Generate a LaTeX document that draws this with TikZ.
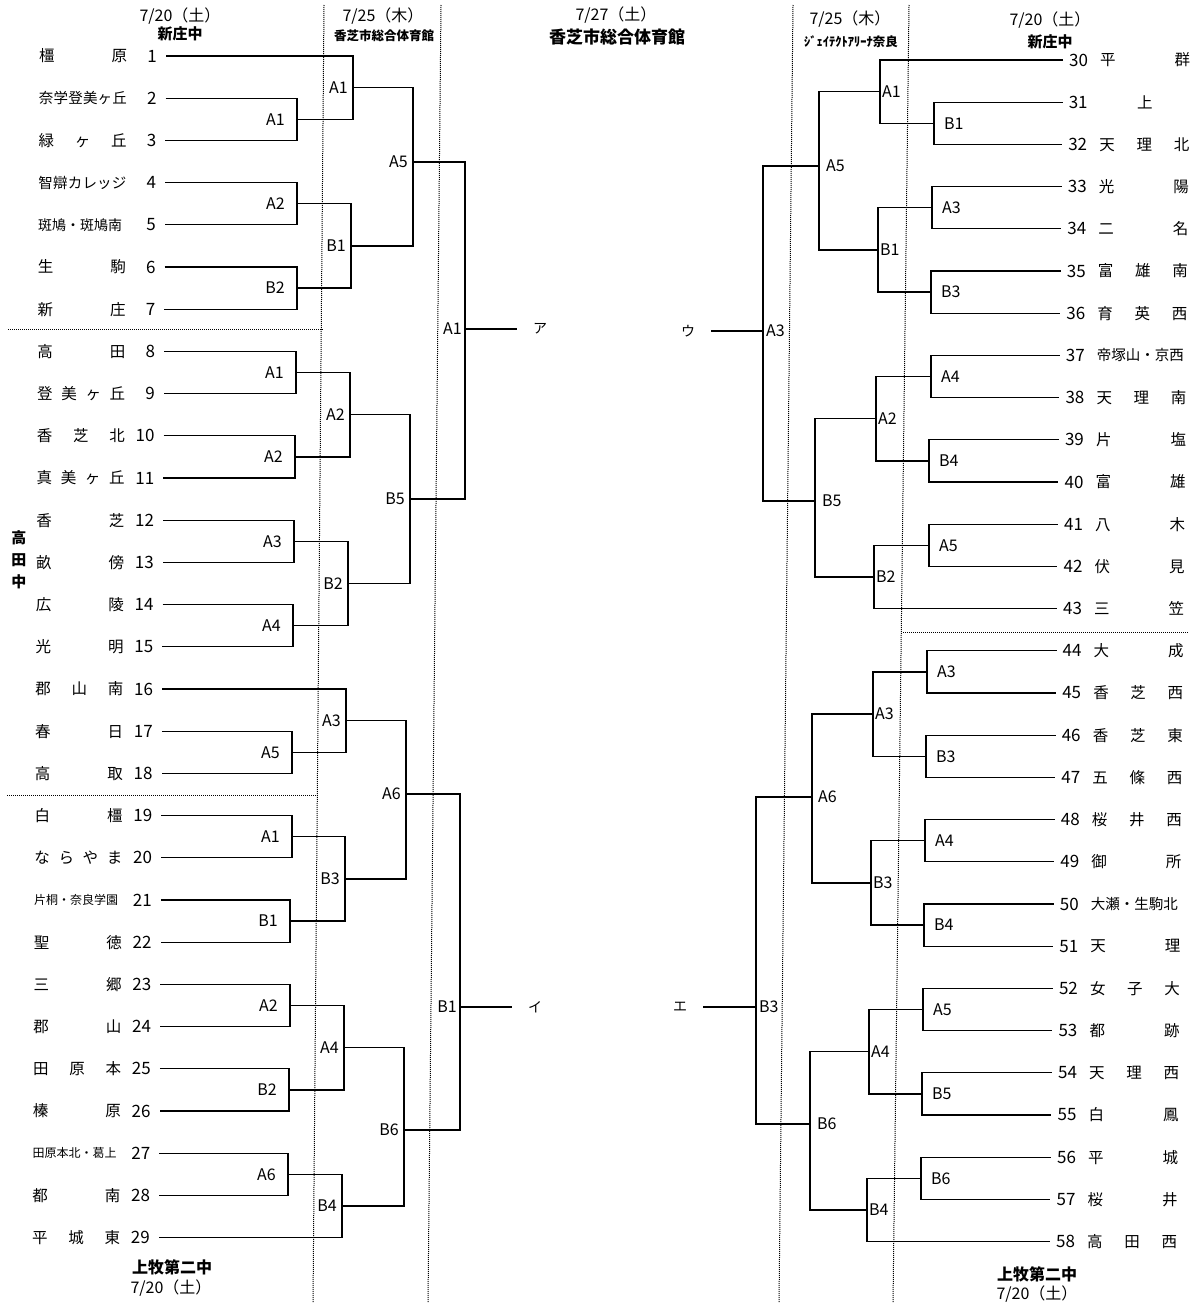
\documentclass[tikz,border=0pt]{standalone}
\usepackage{fontspec}
\setmainfont{Noto Sans CJK JP}
\usetikzlibrary{calc}
\newcommand\fsz[1]{\fontsize{#1}{#1}\selectfont}
% left bracket: name, x, upper, lower, label, gap, y of outgoing line
\newcommand\brLy[7]{%
  \coordinate (#1x) at (#2,0);
  \draw[br] (#3) -- (#3 -| #1x) -- (#4 -| #1x) -- (#4);
  \coordinate (#1) at (#2,#7);
  \node[labL] (#1l) at ([xshift=-#6pt]#1) {#5};
}
\newcommand\brL[6]{%
  \coordinate (#1x) at (#2,0);
  \draw[br] (#3) -- (#3 -| #1x) -- (#4 -| #1x) -- (#4);
  \coordinate (#1) at ($(#3 -| #1x)!0.5!(#4 -| #1x)$);
  \node[labL] (#1l) at ([xshift=-#6pt]#1) {#5};
}
% right bracket
\newcommand\brRy[7]{%
  \coordinate (#1x) at (#2,0);
  \draw[br] (#3) -- (#3 -| #1x) -- (#4 -| #1x) -- (#4);
  \coordinate (#1) at (#2,#7);
  \node[labR] (#1l) at ([xshift=#6pt]#1) {#5};
}
\newcommand\brR[6]{%
  \coordinate (#1x) at (#2,0);
  \draw[br] (#3) -- (#3 -| #1x) -- (#4 -| #1x) -- (#4);
  \coordinate (#1) at ($(#3 -| #1x)!0.5!(#4 -| #1x)$);
  \node[labR] (#1l) at ([xshift=#6pt]#1) {#5};
}
\begin{document}
\begin{tikzpicture}[x=1pt,y=-1pt,
  br/.style={line width=1.3pt},
  dotsep/.style={line width=1pt, dash pattern=on 1pt off 1pt},
  lname/.style={inner sep=0pt, anchor=west, font=\fsz{15.5}},
  lnum/.style={inner sep=0pt, anchor=east, font=\fsz{17}},
  rnum/.style={inner sep=0pt, anchor=west, font=\fsz{17}},
  labL/.style={inner sep=0pt, anchor=east, font=\fsz{16}},
  labR/.style={inner sep=0pt, anchor=west, font=\fsz{16}},
  kana/.style={inner ysep=0pt, inner xsep=16pt, font=\fsz{14}},
  date/.style={inner sep=0pt, font=\fsz{16}},
  venue/.style={inner sep=0pt, font=\bfseries\fsz{15}}]
\fill[white] (0,0) rectangle (1200,1303);
\useasboundingbox (0,0) rectangle (1200,1303);

% dotted guides
\draw[dotsep] (324,5) -- (313,1303);
\draw[dotsep] (441,5) -- (428,1303);
\draw[dotsep] (793,5) -- (779,1303);
\draw[dotsep] (909,5) -- (893,1303);
\draw[dotsep] (8,329) -- (323,329);
\draw[dotsep] (7,795) -- (318,795);
\draw[dotsep] (903,632) -- (1188,632);

% headers
\node[date] (h1d) at (180,16) {7/20（土）};
\node[venue] (h1v) at (180,34) {新庄中};
\node[date] (h2d) at (383,16) {7/25（木）};
\node[venue, font=\bfseries\fsz{12.5}] (h2v) at (384,36) {香芝市総合体育館};
\node[date] (h3d) at (616,15) {7/27（土）};
\node[venue, font=\bfseries\fsz{17}] (h3v) at (617,37) {香芝市総合体育館};
\node[date] (h4d) at (850,19) {7/25（木）};
\node[venue, font=\bfseries\fsz{12.5}] (h4v) at (851,42) {ｼﾞｪｲﾃｸﾄｱﾘｰﾅ奈良};
\node[date] (h5d) at (1050,20) {7/20（土）};
\node[venue] (h5v) at (1050,42) {新庄中};
\node[venue, font=\bfseries\fsz{16}] (f1v) at (172,1267) {上牧第二中};
\node[date] (f1d) at (171,1288) {7/20（土）};
\node[venue, font=\bfseries\fsz{16}] (f2v) at (1037,1274) {上牧第二中};
\node[date] (f2d) at (1037,1294) {7/20（土）};
\node[venue, align=center, font=\bfseries\fontsize{15}{22}\selectfont] (vt) at (19,560) {高\\田\\中};

% left teams
\foreach \i/\tn in {
 1/{橿\hfill 原}, 2/{\fsz{14.5}奈\hfill 学\hfill 登\hfill 美\hfill ヶ\hfill 丘},
 3/{緑\hfill ヶ\hfill 丘}, 4/{\fsz{14.5}智\hfill 辯\hfill カ\hfill レ\hfill ッ\hfill ジ},
 5/{\fsz{14}斑鳩・斑鳩南\hfill}, 6/{生\hfill 駒}, 7/{新\hfill 庄},
 8/{高\hfill 田}, 9/{登\hfill 美\hfill ヶ\hfill 丘}, 10/{香\hfill 芝\hfill 北},
 11/{真\hfill 美\hfill ヶ\hfill 丘}, 12/{香\hfill 芝}, 13/{畝\hfill 傍},
 14/{広\hfill 陵}, 15/{光\hfill 明}, 16/{郡\hfill 山\hfill 南},
 17/{春\hfill 日}, 18/{高\hfill 取}, 19/{白\hfill 橿},
 20/{な\hfill ら\hfill や\hfill ま}, 21/{\fsz{12}片桐・奈良学園\hfill},
 22/{聖\hfill 徳}, 23/{三\hfill 郷}, 24/{郡\hfill 山},
 25/{田\hfill 原\hfill 本}, 26/{榛\hfill 原}, 27/{\fsz{12}田原本北・葛上\hfill},
 28/{都\hfill 南}, 29/{平\hfill 城\hfill 東}}{
  \pgfmathsetmacro\yy{56+(\i-1)*42.2}
  \pgfmathsetmacro\dd{(\yy-56)*0.006}
  \node[lname] (N\i) at (39-\dd,\yy) {\hbox to 88pt{\tn}};
  \node[lnum] (n\i) at (157-\dd,\yy) {\i};
  \coordinate (T\i) at (166-\dd,\yy);
}

% right teams
\foreach \i/\tn in {
 30/{平\hfill 群}, 31/{\hfill 上\hfill}, 32/{天\hfill 理\hfill 北},
 33/{光\hfill 陽}, 34/{二\hfill 名}, 35/{富\hfill 雄\hfill 南},
 36/{育\hfill 英\hfill 西}, 37/{\fsz{14.5}帝塚山・京西\hfill}, 38/{天\hfill 理\hfill 南},
 39/{片\hfill 塩}, 40/{富\hfill 雄}, 41/{八\hfill 木}, 42/{伏\hfill 見},
 43/{三\hfill 笠}, 44/{大\hfill 成}, 45/{香\hfill 芝\hfill 西},
 46/{香\hfill 芝\hfill 東}, 47/{五\hfill 條\hfill 西}, 48/{桜\hfill 井\hfill 西},
 49/{御\hfill 所}, 50/{\fsz{14.5}大瀬・生駒北\hfill}, 51/{天\hfill 理},
 52/{女\hfill 子\hfill 大}, 53/{都\hfill 跡}, 54/{天\hfill 理\hfill 西},
 55/{白\hfill 鳳}, 56/{平\hfill 城}, 57/{桜\hfill 井}, 58/{高\hfill 田\hfill 西}}{
  \pgfmathsetmacro\yy{60+(\i-30)*42.2}
  \pgfmathsetmacro\dd{(\yy-60)*0.011}
  \node[rnum] (n\i) at (1069-\dd,\yy) {\i};
  \node[lname] (N\i) at (1100-\dd,\yy) {\hbox to 90pt{\tn}};
  \coordinate (T\i) at (1063-\dd,\yy);
}

% ---- left brackets ----
\brL{La1}{297}{T2}{T3}{A1}{12}
\brL{La2}{297}{T4}{T5}{A2}{12}
\brL{La3}{297}{T6}{T7}{B2}{12}
\brL{Lb1}{353}{T1}{La1}{A1}{5}
\brL{Lb2}{351}{La2}{La3}{B1}{5}
\brLy{Lc1}{413}{Lb1}{Lb2}{A5}{5}{162}
\brL{La4}{296}{T8}{T9}{A1}{12}
\brL{La5}{295}{T10}{T11}{A2}{12}
\brL{La6}{294}{T12}{T13}{A3}{12}
\brL{La7}{293}{T14}{T15}{A4}{12}
\brL{Lb3}{350}{La4}{La5}{A2}{5}
\brL{Lb4}{348}{La6}{La7}{B2}{5}
\brL{Lc2}{410}{Lb3}{Lb4}{B5}{5}
\brLy{Ld1}{465}{Lc1}{Lc2}{A1}{3}{329}
\node[kana] (kA) at ([xshift=75pt]Ld1) {ア};
\draw[br] (Ld1) -- (kA);

\brL{La8}{292}{T17}{T18}{A5}{12}
\brL{Lb5}{346}{T16}{La8}{A3}{5}
\brL{La9}{292}{T19}{T20}{A1}{12}
\brL{La10}{290}{T21}{T22}{B1}{12}
\brL{Lb6}{345}{La9}{La10}{B3}{5}
\brLy{Lc3}{406}{Lb5}{Lb6}{A6}{5}{794}
\brL{La11}{290}{T23}{T24}{A2}{12}
\brL{La12}{289}{T25}{T26}{B2}{12}
\brL{Lb7}{344}{La11}{La12}{A4}{5}
\brL{La13}{288}{T27}{T28}{A6}{12}
\brL{Lb8}{342}{La13}{T29}{B4}{5}
\brLy{Lc4}{404}{Lb7}{Lb8}{B6}{5}{1130}
\brLy{Ld2}{460}{Lc3}{Lc4}{B1}{3}{1007}
\node[kana] (kI) at ([xshift=75pt]Ld2) {イ};
\draw[br] (Ld2) -- (kI);

% ---- right brackets ----
\brR{Ra1}{934}{T31}{T32}{B1}{10}
\brR{Rb1}{880}{T30}{Ra1}{A1}{2}
\brR{Ra2}{932}{T33}{T34}{A3}{10}
\brR{Ra3}{931}{T35}{T36}{B3}{10}
\brR{Rb2}{878}{Ra2}{Ra3}{B1}{2}
\brRy{Rc1}{819}{Rb1}{Rb2}{A5}{7}{166}
\brR{Ra4}{931}{T37}{T38}{A4}{10}
\brR{Ra5}{929}{T39}{T40}{B4}{10}
\brR{Rb3}{876}{Ra4}{Ra5}{A2}{2}
\brR{Ra6}{929}{T41}{T42}{A5}{10}
\brR{Rb4}{874}{Ra6}{T43}{B2}{2}
\brRy{Rc2}{815}{Rb3}{Rb4}{B5}{7}{501}
\brRy{Rd1}{763}{Rc1}{Rc2}{A3}{3}{331}
\node[kana] (kU) at ([xshift=-75pt]Rd1) {ウ};
\draw[br] (Rd1) -- (kU);

\brR{Ra7}{927}{T44}{T45}{A3}{10}
\brR{Ra8}{926}{T46}{T47}{B3}{10}
\brR{Rb5}{873}{Ra7}{Ra8}{A3}{2}
\brR{Ra9}{925}{T48}{T49}{A4}{10}
\brR{Ra10}{924}{T50}{T51}{B4}{10}
\brR{Rb6}{871}{Ra9}{Ra10}{B3}{2}
\brRy{Rc3}{812}{Rb5}{Rb6}{A6}{6}{797}
\brR{Ra11}{923}{T52}{T53}{A5}{10}
\brR{Ra12}{922}{T54}{T55}{B5}{10}
\brR{Rb7}{869}{Ra11}{Ra12}{A4}{2}
\brR{Ra13}{921}{T56}{T57}{B6}{10}
\brR{Rb8}{867}{Ra13}{T58}{B4}{2}
\brRy{Rc4}{810}{Rb7}{Rb8}{B6}{7}{1124}
\brRy{Rd2}{756}{Rc3}{Rc4}{B3}{3}{1007}
\node[kana] (kE) at ([xshift=-76pt]Rd2) {エ};
\draw[br] (Rd2) -- (kE);
\end{tikzpicture}
\end{document}
